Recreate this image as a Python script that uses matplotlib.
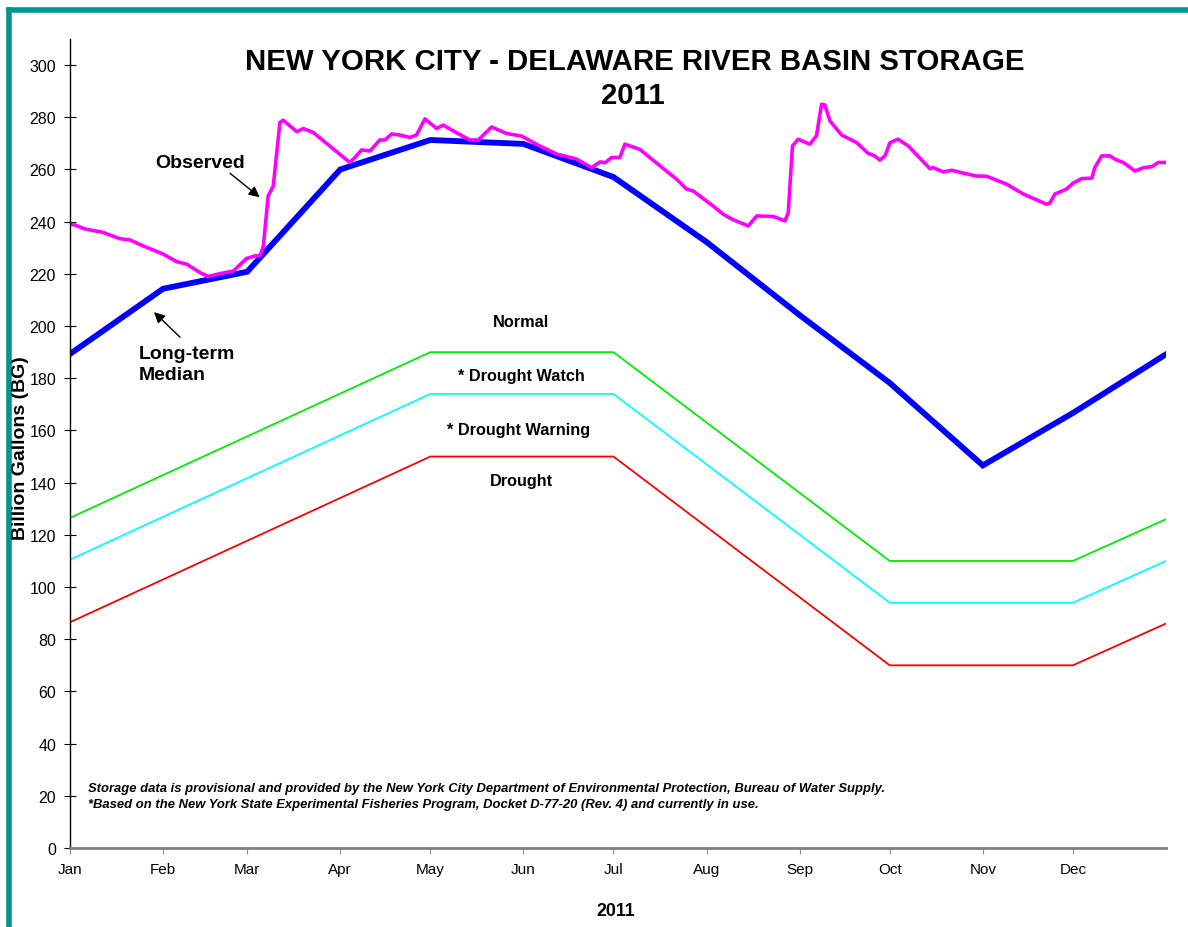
import matplotlib
matplotlib.use("Agg")
import matplotlib.pyplot as plt
from matplotlib.lines import Line2D

plt.rcParams["font.family"] = ["Liberation Sans", "DejaVu Sans"]

# day-of-year positions of month starts (2011) and axis labels
month_days = [0, 31, 59, 90, 120, 151, 181, 212, 243, 273, 304, 334]
month_labels = ["Jan", "Feb", "Mar", "Apr", "May", "Jun",
                "Jul", "Aug", "Sep", "Oct", "Nov", "Dec"]

# long-term median storage (BG) at month starts + year end
median_days = [0, 31, 59, 90, 120, 151, 181, 212, 243, 273, 304, 334, 365]
median_bg = [189.3, 214.3, 220.8, 260.0, 271.3, 269.8, 257.1, 232.2,
             204.2, 178.2, 146.6, 166.7, 189.2]

# drought rule curves (BG)
curve_days = [0, 120, 181, 273, 334, 365]
watch_bg = [126.5, 190, 190, 110, 110, 126]
warning_bg = [110.5, 174, 174, 94, 94, 110]
drought_bg = [86.5, 150, 150, 70, 70, 86]

# observed storage 2011 (BG)
obs_days = [0, 1.7, 5, 11, 16.6, 20, 24.4, 31, 35.5, 38.9, 43.3, 46, 50, 54.4,
            58.8, 61.6, 63.3, 64.4, 66, 67.7, 69.9, 71, 75.5, 77.7, 81, 93.2,
            94.9, 97.1, 99.9, 103.2, 104.9, 107.1, 109.9, 113.2, 115.4, 118.2,
            122.1, 124.3, 128.7, 133.2, 136, 140.4, 145.4, 150.4, 156.5, 162.1,
            168.7, 173.7, 176.5, 178.2, 180.4, 183.1, 184.8, 189.8, 196.5, 202,
            205.3, 207.5, 214.2, 217.5, 220.9, 225.9, 228.7, 234.2, 238.1,
            239.2, 240.6, 242.5, 246.4, 248.6, 250.3, 251.4, 253.1, 257, 262,
            265.8, 268, 269.7, 271.4, 273.1, 275.8, 279.2, 286.4, 287.5, 290.8,
            293.6, 299.1, 301.9, 305.3, 311.9, 317.5, 325.2, 326.3, 328, 331.9,
            334.1, 336.9, 340.3, 341.3, 343.6, 346.3, 348.6, 350.8, 354.7,
            357.5, 360.3, 362.4, 364.6]
obs_bg = [239.1, 238.7, 237.2, 235.9, 233.5, 233.0, 230.7, 227.6, 224.7, 223.7,
          220.5, 219.0, 220.1, 221.1, 225.9, 226.9, 226.9, 230.7, 249.9, 253.7,
          278.0, 278.9, 274.5, 275.7, 274.2, 262.7, 264.6, 267.5, 267.1, 271.3,
          271.3, 273.6, 273.2, 272.3, 273.2, 279.4, 275.7, 277.0, 274.1, 271.3,
          271.3, 276.3, 273.8, 272.8, 269.0, 265.9, 264.0, 260.7, 262.9, 262.6,
          264.6, 264.6, 269.7, 267.7, 261.4, 256.3, 252.5, 251.8, 246.0, 242.9,
          240.7, 238.4, 242.2, 242.0, 240.3, 243.5, 269.0, 271.6, 269.7, 272.9,
          285.0, 284.7, 278.6, 273.2, 270.3, 266.2, 265.2, 263.6, 265.2, 270.3,
          271.6, 269.0, 260.3, 260.7, 259.1, 259.7, 258.2, 257.5, 257.4, 254.4,
          250.6, 246.7, 247.1, 250.6, 252.5, 254.8, 256.5, 256.7, 260.8, 265.2,
          265.2, 263.6, 262.7, 259.4, 260.7, 261.1, 262.7, 262.7]

fig = plt.figure(figsize=(11.88, 9.28), dpi=100)
ax = fig.add_axes([70 / 1188, 1 - 849 / 928, 1096 / 1188, 809 / 928])

ax.plot(curve_days, drought_bg, color="#FF0000", lw=1.3)
ax.plot(curve_days, warning_bg, color="#00FFFF", lw=1.3)
ax.plot(curve_days, watch_bg, color="#00EE00", lw=1.3)
ax.plot(median_days, median_bg, color="#0000FF", lw=4.2, solid_joinstyle="miter")
ax.plot(obs_days, obs_bg, color="#FF00FF", lw=2.6)

ax.set_xlim(0, 365)
ax.set_ylim(0, 310)
ax.set_yticks(range(0, 301, 20))
ax.set_xticks(month_days)
ax.set_xticklabels(month_labels)
ax.tick_params(axis="y", direction="inout", length=8, width=0.8, pad=6, labelsize=11.5)
ax.tick_params(axis="x", direction="out", length=4, color="#909090", pad=6, labelsize=11)
for s in ("top", "right"):
    ax.spines[s].set_visible(False)
ax.spines["bottom"].set_color("#808080")
ax.spines["bottom"].set_linewidth(2)
ax.spines["left"].set_linewidth(1)

# zone labels
lab = dict(ha="center", va="center", fontsize=11.7, fontweight="bold")
ax.text(150.2, 201.9, "Normal", **lab)
ax.text(150.2, 181.2, "* Drought Watch", **lab)
ax.text(149.5, 160.5, "* Drought Warning", **lab)
ax.text(150.2, 141.0, "Drought", **lab)

arrow = dict(arrowstyle="-|>", color="black", lw=1, mutation_scale=16)
ax.annotate("", xy=(63.9, 248.7), xytext=(52.6, 259.2), arrowprops=arrow)
ax.text(43.3, 262.6, "Observed", ha="center", va="center", fontsize=14, fontweight="bold")
ax.annotate("", xy=(27.3, 206.1), xytext=(37.3, 195.0), arrowprops=arrow)
ax.text(23.0, 192.6, "Long-term\nMedian", ha="left", va="top", fontsize=14,
        fontweight="bold", linespacing=1.3)

ax.text(6, 19.9, "Storage data is provisional and provided by the New York City Department "
        "of Environmental Protection, Bureau of Water Supply.\n*Based on the New York State "
        "Experimental Fisheries Program, Docket D-77-20 (Rev. 4) and currently in use.",
        ha="left", va="center", fontsize=9.4, fontweight="bold", style="italic",
        linespacing=1.38)

fig.text(635 / 1188, 1 - 62 / 928, "NEW YORK CITY - DELAWARE RIVER BASIN STORAGE",
         ha="center", va="center", fontsize=21.2, fontweight="bold")
fig.text(633 / 1188, 1 - 96 / 928, "2011", ha="center", va="center",
         fontsize=21.2, fontweight="bold")
fig.text(21 / 1188, 1 - 448 / 928, "Billion Gallons (BG)", rotation=90,
         ha="center", va="center", fontsize=14, fontweight="bold")
fig.text(616 / 1188, 1 - 912 / 928, "2011", ha="center", va="center",
         fontsize=12.8, fontweight="bold")

# teal frame on left and top
teal = "#00968F"
fig.add_artist(Line2D([9 / 1188, 9 / 1188], [0, 1 - 10.5 / 928], color=teal,
                      lw=4, transform=fig.transFigure, solid_capstyle="projecting"))
fig.add_artist(Line2D([9 / 1188, 1], [1 - 10.5 / 928, 1 - 10.5 / 928], color=teal,
                      lw=4, transform=fig.transFigure, solid_capstyle="projecting"))

fig.savefig("out.png", dpi=100)
